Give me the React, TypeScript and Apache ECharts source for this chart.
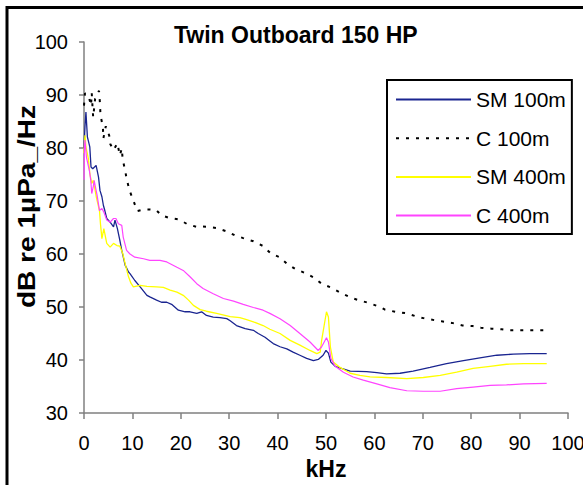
import React, { useEffect, useRef } from "react";
import * as echarts from "echarts";

const TITLE = "Twin Outboard 150 HP";
const X_NAME = "kHz";
const Y_NAME = "dB re 1µPa_/Hz";
const SERIES_NAMES = ["SM 100m", "C 100m", "SM 400m", "C 400m"];

// SM 100m
const sm100K = [0, 0.2, 0.4, 0.7, 1.2, 1.45, 1.8, 2.5, 3.0, 3.3, 3.7, 4.0, 4.3, 4.7, 5.4, 6.1, 6.4, 6.9, 7.4, 7.8, 8.5, 9.2, 9.5, 10.5, 11.6, 13, 13.6, 15, 16, 17.1, 18.1, 19.5, 20.9, 21.9, 23.3, 24.3, 25.3, 26.7, 28.1, 29.5, 30.2, 31.5, 33.3, 35, 36, 37.4, 38.4, 39.1, 40.5, 41.9, 43.2, 44.6, 46, 47.4, 48.4, 49.4, 50.0, 50.5, 51, 51.9, 53.2, 55, 58.4, 60.5, 62.5, 65.3, 68, 71.5, 74.9, 78.4, 81.8, 85.3, 88.7, 92.1, 95.6];
const sm100dB = [80, 84, 86.8, 82.1, 80.2, 76.4, 76.1, 76.7, 74.5, 72, 70.8, 69.2, 68.2, 66.7, 66, 65.1, 66.4, 64.8, 62.6, 60.7, 57.9, 56.6, 56.3, 55, 53.8, 52.2, 51.9, 51.3, 50.9, 50.9, 50.5, 49.4, 49.1, 49.1, 48.8, 49.1, 48.4, 48.1, 48, 47.8, 47.4, 46.5, 45.9, 45.6, 45, 44.3, 43.6, 43.1, 42.5, 42.1, 41.5, 40.9, 40.3, 39.9, 40.1, 40.9, 41.8, 41.3, 39.6, 38.8, 38.4, 37.9, 37.8, 37.6, 37.4, 37.5, 37.9, 38.6, 39.3, 39.9, 40.4, 40.9, 41.1, 41.2, 41.2];

// C 100m
const c100K = [0, 0.2, 0.9, 1.45, 1.6, 1.8, 1.9, 2.3, 3.1, 3.3, 3.4, 3.9, 4.0, 4.5, 5.2, 5.4, 6.1, 6.9, 7.4, 7.8, 8.0, 8.5, 8.8, 9.4, 10.2, 11, 12.3, 13.6, 14.9, 16, 17.6, 19.7, 21.2, 23.3, 24.5, 25.9, 27.4, 29.7, 31.2, 32.9, 35, 37, 38.6, 40.4, 41.9, 43.6, 45.7, 47.4, 49.1, 51.2, 53.2, 55.3, 56.7, 58.7, 61.2, 62.2, 64.3, 66.7, 68.7, 70.1, 72.5, 73.9, 76, 78.2, 80.3, 82, 84.2, 86.3, 87.7, 90.1, 92.8, 95.2];
const c100dB = [88, 90.3, 90, 88, 90.4, 87.1, 85.8, 89.3, 90.8, 88.4, 86.2, 84, 81.8, 84.1, 82.4, 80.8, 79.6, 80.9, 78.6, 79.9, 77.8, 75.8, 74.2, 72, 70.1, 68.1, 68.4, 68.4, 68.3, 67.3, 66.8, 66.5, 65.7, 65.1, 65.2, 65.1, 64.9, 64.2, 63.5, 63, 62.4, 61.5, 60.1, 59.4, 58.2, 57.2, 56.4, 55.6, 54.4, 53.6, 52.6, 51.7, 51.3, 50.8, 50, 49.5, 49.1, 48.8, 48.2, 47.9, 47.5, 47.3, 47, 46.5, 46.4, 46.1, 45.9, 45.8, 45.6, 45.6, 45.6, 45.6];

// SM 400m
const sm400K = [0, 0.2, 0.4, 0.9, 1.2, 1.6, 1.9, 2.3, 2.6, 3.2, 3.4, 3.7, 4.1, 4.7, 5.4, 6.1, 6.8, 7.4, 8.0, 8.5, 9.2, 9.7, 10.2, 11.6, 13, 15, 16.4, 17.8, 19.2, 20.5, 21.6, 22.6, 24, 25.3, 27.4, 30.2, 32.2, 33.6, 35, 37, 38.4, 40.5, 42.6, 44.6, 46.7, 48.1, 48.8, 49.1, 49.8, 50.1, 50.5, 50.9, 51.5, 52.9, 55, 57, 59.1, 62.5, 66.7, 70.1, 73.6, 77, 80.4, 83.9, 87.3, 90.8, 95.6];
const sm400dB = [79, 82.4, 80.2, 78, 75.2, 73.3, 73.9, 72, 70.5, 68.2, 65.7, 62.9, 64.8, 62, 61.3, 62, 61.6, 61.5, 60.1, 58.2, 55.7, 54.5, 53.8, 54.1, 53.9, 53.8, 53.7, 53.2, 52.8, 52.2, 51.3, 50.3, 49.5, 49.2, 48.8, 48.2, 48, 47.6, 47.2, 46.5, 45.8, 45, 43.7, 42.8, 41.8, 41.2, 41.5, 43.7, 47.5, 49.1, 48.1, 42.5, 39.6, 38.6, 37.5, 37.1, 36.8, 36.7, 36.5, 36.7, 37.1, 37.7, 38.4, 38.8, 39.2, 39.3, 39.3];

// C 400m
const c400K = [0, 0.1, 0.2, 0.5, 1.1, 1.4, 1.6, 1.9, 2.1, 2.5, 2.7, 3.2, 3.7, 4.1, 4.7, 5.4, 6.1, 6.6, 7.1, 7.8, 8.1, 8.8, 9.5, 10.5, 12.3, 13.6, 15.7, 17.1, 19.2, 20.5, 21.9, 23.3, 24.6, 26.7, 28.8, 30.9, 32.9, 35, 37, 38.4, 40.5, 42.6, 44.6, 46.7, 48.4, 49.1, 50.1, 50.5, 51, 51.9, 53.6, 55.6, 57.7, 60.5, 63.2, 66.7, 70.1, 73.6, 77, 80.4, 83.9, 87.3, 90.8, 95.6];
const c400dB = [74, 80.2, 81.5, 78.3, 75.8, 73.9, 71.4, 72.6, 73.9, 72, 71.1, 68.2, 68.6, 67.9, 66.4, 66, 66.7, 66.7, 65.7, 65.4, 63.2, 60.7, 60, 59.4, 59.1, 58.8, 58.8, 58.5, 57.5, 56.9, 55.7, 54.4, 53.5, 52.5, 51.6, 51.1, 50.5, 49.9, 49.4, 48.8, 47.8, 46.5, 45, 43.4, 41.8, 42.5, 44.2, 43.4, 40.3, 38.8, 37.7, 36.8, 36.2, 35.5, 34.8, 34.2, 34.1, 34.1, 34.6, 34.9, 35.2, 35.3, 35.5, 35.6];

const X_MIN = 0, X_MAX = 100, X_STEP = 10;
const Y_MIN = 30, Y_MAX = 100, Y_STEP = 10;

const pairs = (xs: number[], ys: number[]) => xs.map((x, i) => [x, ys[i]]);

const FONT = '"Liberation Sans", Arial, sans-serif';

export default function App() {
  const ref = useRef<HTMLDivElement>(null);
  useEffect(() => {
    if (!ref.current) return;
    const chart = echarts.init(ref.current, null, { renderer: "svg" });
    const axisColor = "#808080";
    chart.setOption({
      animation: false,
      backgroundColor: "#fff",
      title: {
        text: TITLE,
        left: 174,
        top: 23,
        padding: 0,
        textStyle: { fontSize: 23, fontWeight: "bold", fontFamily: FONT, color: "#000" },
      },
      legend: {
        orient: "vertical",
        left: 387,
        top: 80,
        itemWidth: 75,
        itemHeight: 20,
        itemGap: 17.7,
        padding: [9, 6, 8, 8],
        borderColor: "#000",
        borderWidth: 2,
        backgroundColor: "#fff",
        itemStyle: { opacity: 0 },
        textStyle: { fontSize: 21, fontFamily: FONT, color: "#000" },
        data: SERIES_NAMES,
      },
      grid: { left: 84, right: 15, top: 42, bottom: 72, containLabel: false, outerBoundsMode: "none" },
      xAxis: {
        type: "value",
        min: X_MIN,
        max: X_MAX,
        interval: X_STEP,
        name: X_NAME,
        nameLocation: "middle",
        nameGap: 39,
        nameTextStyle: { fontSize: 23, fontWeight: "bold", fontFamily: FONT, color: "#000" },
        axisLine: { show: true, lineStyle: { color: axisColor, width: 1.5 } },
        axisTick: { show: true, inside: false, length: 6, lineStyle: { color: axisColor, width: 1.5 } },
        axisLabel: { fontSize: 20, fontFamily: FONT, color: "#000", margin: 20 },
        splitLine: { show: false },
      },
      yAxis: {
        type: "value",
        min: Y_MIN,
        max: Y_MAX,
        interval: Y_STEP,
        axisLine: { show: true, lineStyle: { color: axisColor, width: 1.5 } },
        axisTick: { show: true, inside: false, length: 5, lineStyle: { color: axisColor, width: 1.5 } },
        axisLabel: { fontSize: 20, fontFamily: FONT, color: "#000", margin: 16 },
        splitLine: { show: false },
      },
      graphic: [
        {
          type: "rect",
          silent: true,
          z: -1,
          shape: { x: 7, y: 7.5, width: 640, height: 540 },
          style: { fill: "none", stroke: "#000", lineWidth: 3 },
        },
        {
          type: "text",
          x: 27,
          y: 206.5,
          rotation: Math.PI / 2,
          scaleX: 1.22,
          style: {
            text: Y_NAME,
            font: `bold 23px ${FONT}`,
            fill: "#000",
            align: "center",
            verticalAlign: "middle",
            textAlign: "center",
            textVerticalAlign: "middle",
          },
        },
      ],
      series: [
        {
          name: SERIES_NAMES[0],
          type: "line",
          data: pairs(sm100K, sm100dB),
          showSymbol: false,
          symbol: "none",
          lineStyle: { color: "#1a2590", width: 1.3 },
          itemStyle: { color: "#1a2590" },
        },
        {
          name: SERIES_NAMES[1],
          type: "line",
          data: pairs(c100K, c100dB),
          showSymbol: false,
          symbol: "none",
          lineStyle: { color: "#000", width: 2, type: [3, 7] },
          itemStyle: { color: "#000" },
        },
        {
          name: SERIES_NAMES[2],
          type: "line",
          data: pairs(sm400K, sm400dB),
          showSymbol: false,
          symbol: "none",
          lineStyle: { color: "#ffff00", width: 1.3 },
          itemStyle: { color: "#ffff00" },
        },
        {
          name: SERIES_NAMES[3],
          type: "line",
          data: pairs(c400K, c400dB),
          showSymbol: false,
          symbol: "none",
          lineStyle: { color: "#ff44ff", width: 1.2 },
          itemStyle: { color: "#ff44ff" },
        },
      ],
    });
    return () => chart.dispose();
  }, []);
  return (
    <div
      ref={ref}
      style={{ position: "fixed", left: 0, top: 0, width: 583, height: 485, background: "#fff" }}
    />
  );
}
